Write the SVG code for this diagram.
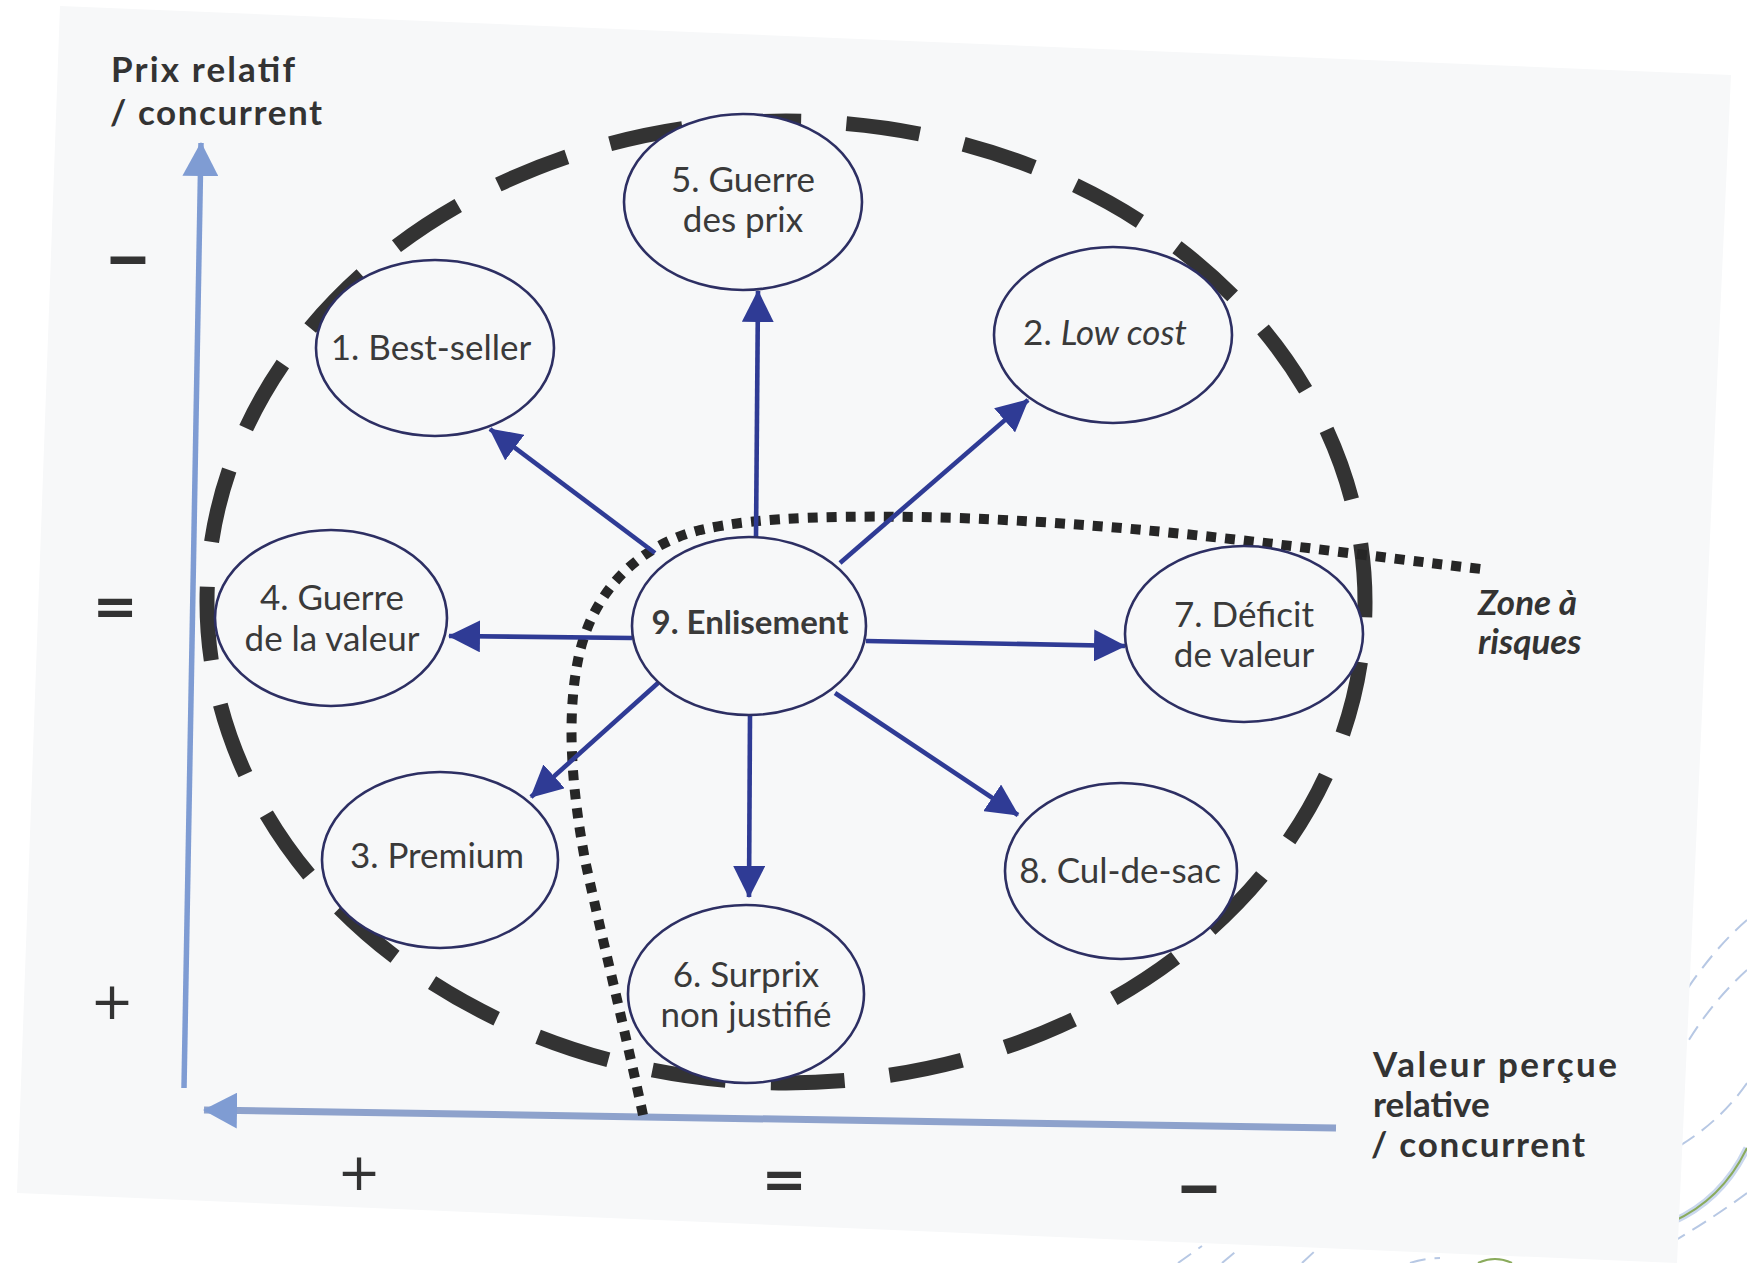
<svg xmlns="http://www.w3.org/2000/svg" width="1747" height="1263" viewBox="0 0 1747 1263">
  <style>
    .page { fill: #f7f8f9; }
    .deco { fill: none; stroke: #b7c8e4; stroke-width: 2; stroke-dasharray: 16 9; }
    .axis { fill: none; stroke-linecap: butt; }
    .zone { fill: none; stroke: #333333; stroke-width: 15; }
    .risk { fill: none; stroke: #262626; stroke-width: 10; stroke-dasharray: 10 9; }
    .conn line { stroke: #2f3b95; stroke-width: 4.6; marker-end: url(#head); }
    .node ellipse { fill: #f7f8f9; stroke: #2d2f63; stroke-width: 2.6; }
    .lbl { font-family: Lato, "Open Sans", "Liberation Sans", sans-serif; font-size: 35px; fill: #3a3a3a; text-anchor: middle; }
    .strong { font-weight: bold; font-size: 33px; }
    .title { font-family: Lato, "Open Sans", "Liberation Sans", sans-serif; font-weight: bold; font-size: 35px; fill: #333333; }
    .tick { font-family: "DejaVu Sans", sans-serif; fill: #333333; text-anchor: middle; }
    .dash { font-family: Lato, "DejaVu Sans", sans-serif; font-weight: bold; font-size: 86px; fill: #333333; text-anchor: middle; }
  </style>
  <defs>
    <marker id="head" markerUnits="userSpaceOnUse" viewBox="0 0 32 32" markerWidth="32" markerHeight="32" refX="31" refY="16" orient="auto">
      <path d="M0,0 L32,16 L0,32 z" fill="#2f3b95"/>
    </marker>
    <marker id="axhead" markerUnits="userSpaceOnUse" viewBox="0 0 34 36" markerWidth="34" markerHeight="36" refX="33" refY="18" orient="auto">
      <path d="M0,0 L34,18 L0,36 z" fill="#7f9cd3"/>
    </marker>
  </defs>

  <rect width="1747" height="1263" fill="#ffffff"/>

  <!-- template curves in the lower right corner -->
  <g id="corner-deco">
    <path class="deco" d="M1747,920 Q1712,950 1680,1000"/>
    <path class="deco" d="M1747,970 Q1708,1005 1680,1055"/>
    <path class="deco" d="M1747,1083 Q1720,1122 1676,1148"/>
    <path d="M1747,1148 Q1722,1200 1672,1222" fill="none" stroke="#c9d7ee" stroke-width="7"/>
    <path d="M1747,1148 Q1722,1200 1672,1222" fill="none" stroke="#8aab5c" stroke-width="2"/>
    <path class="deco" d="M1747,1193 Q1716,1216 1676,1240"/>
    <path class="deco" d="M1178,1263 L1202,1246"/>
    <path class="deco" d="M1222,1263 L1240,1248"/>
    <path class="deco" d="M1302,1263 L1316,1250"/>
    <path class="deco" d="M1410,1263 Q1425,1258 1440,1258"/>
    <path d="M1478,1263 Q1495,1255 1512,1263" fill="none" stroke="#8aab5c" stroke-width="2"/>
  </g>

  <!-- scanned page -->
  <polygon class="page" points="60,6 1731,75 1677,1263 17,1193"/>

  <!-- axes -->
  <g id="axes">
    <line class="axis" x1="184" y1="1088" x2="201" y2="143" stroke="#7f9cd3" stroke-width="5.5" marker-end="url(#axhead)"/>
    <line class="axis" x1="1336" y1="1128" x2="204" y2="1110" stroke="#8ea2cc" stroke-width="7" marker-end="url(#axhead)"/>
  </g>

  <!-- axis titles and scale marks -->
  <g id="axis-labels">
    <text class="title" x="111" y="82" textLength="184" lengthAdjust="spacing">Prix relatif</text>
    <text class="title" x="110" y="125" textLength="212" lengthAdjust="spacing">/ concurrent</text>
    <text class="title" x="1373" y="1077" textLength="244" lengthAdjust="spacing">Valeur perçue</text>
    <text class="title" x="1373" y="1117">relative</text>
    <text class="title" x="1371" y="1157" textLength="214" lengthAdjust="spacing">/ concurrent</text>
    <text class="title" x="1478" y="615" font-style="italic" font-size="36">Zone à</text>
    <text class="title" x="1478" y="654" font-style="italic" font-size="36">risques</text>

    <text class="dash" x="128" y="286">–</text>
    <text class="tick" x="115" y="625" font-size="54" font-weight="bold">=</text>
    <text class="tick" x="112" y="1019" font-size="52">+</text>
    <text class="tick" x="359" y="1190" font-size="52">+</text>
    <text class="tick" x="784" y="1198" font-size="54" font-weight="bold">=</text>
    <text class="dash" x="1199" y="1215">–</text>
  </g>

  <!-- outer dashed boundary -->
  <path id="zone-outline" class="zone" pathLength="3337.6" stroke-dasharray="74 45.2" stroke-dashoffset="58.7"
        d="M786,121 A579,481 0 1,1 786,1083 A579,481 0 1,1 786,121"/>

  <!-- dotted risk boundary -->
  <path id="risk-line" class="risk"
        d="M643,1115 C625,1030 600,930 585,860 C572,790 566,720 578,660 C592,590 640,545 700,530 C760,516 850,515 960,518 C1150,525 1300,548 1481,569"/>

  <!-- connectors from 9 -->
  <g id="connectors" class="conn">
    <line x1="756" y1="537" x2="758" y2="291"/>
    <line x1="655" y1="553" x2="490" y2="429"/>
    <line x1="840" y1="563" x2="1028" y2="400"/>
    <line x1="632" y1="638" x2="449" y2="636"/>
    <line x1="866" y1="641" x2="1125" y2="646"/>
    <line x1="658" y1="683" x2="531" y2="797"/>
    <line x1="835" y1="693" x2="1018" y2="815"/>
    <line x1="750" y1="715" x2="749" y2="897"/>
  </g>

  <!-- nodes -->
  <g id="n5" class="node">
    <ellipse cx="743" cy="202" rx="119" ry="88"/>
    <text class="lbl" x="743" y="192">5. Guerre</text>
    <text class="lbl" x="743" y="232">des prix</text>
  </g>
  <g id="n1" class="node">
    <ellipse cx="435" cy="348" rx="119" ry="88"/>
    <text class="lbl" x="431" y="360">1. Best-seller</text>
  </g>
  <g id="n2" class="node">
    <ellipse cx="1113" cy="335" rx="119" ry="88"/>
    <text class="lbl" x="1105" y="345">2. <tspan font-style="italic">Low cost</tspan></text>
  </g>
  <g id="n4" class="node">
    <ellipse cx="331" cy="618" rx="116" ry="88"/>
    <text class="lbl" x="332" y="610">4. Guerre</text>
    <text class="lbl" x="332" y="651">de la valeur</text>
  </g>
  <g id="n9" class="node">
    <ellipse cx="749" cy="626" rx="117" ry="89"/>
    <text class="lbl strong" x="750" y="634">9. Enlisement</text>
  </g>
  <g id="n7" class="node">
    <ellipse cx="1244" cy="634" rx="119" ry="88"/>
    <text class="lbl" x="1244" y="627">7. Déficit</text>
    <text class="lbl" x="1244" y="667">de valeur</text>
  </g>
  <g id="n3" class="node">
    <ellipse cx="440" cy="860" rx="118" ry="88"/>
    <text class="lbl" x="437" y="868">3. Premium</text>
  </g>
  <g id="n8" class="node">
    <ellipse cx="1121" cy="871" rx="116" ry="88"/>
    <text class="lbl" x="1120" y="883">8. Cul-de-sac</text>
  </g>
  <g id="n6" class="node">
    <ellipse cx="746" cy="994" rx="118" ry="89"/>
    <text class="lbl" x="746" y="987">6. Surprix</text>
    <text class="lbl" x="746" y="1027">non justifié</text>
  </g>
</svg>
